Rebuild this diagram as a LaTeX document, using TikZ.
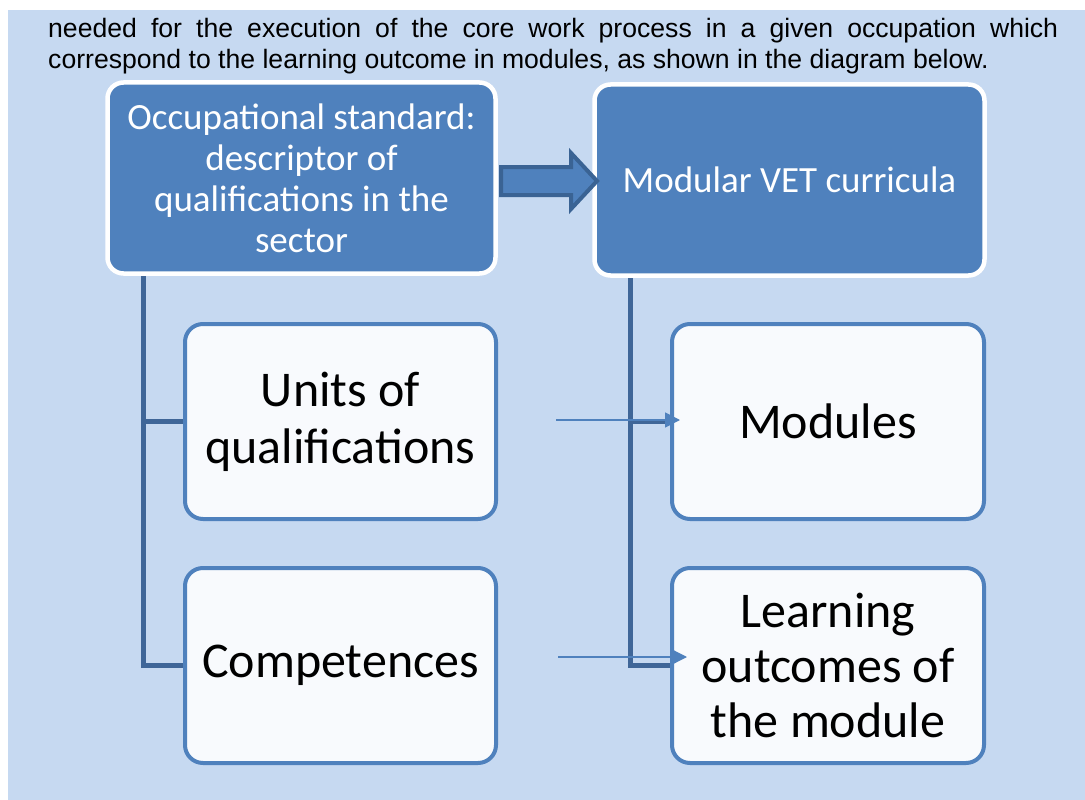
\documentclass[tikz,border=0pt]{standalone}
\usepackage{fontspec}
\setmainfont{Liberation Sans}
\newfontfamily\boxfont{Carlito}
\usepackage{tikz}
\usetikzlibrary{arrows.meta}
\pgfdeclarelayer{bg}
\pgfsetlayers{bg,main}

\definecolor{pageblue}{HTML}{C6D9F1}
\definecolor{boxblue}{HTML}{4F81BD}
\definecolor{linkblue}{HTML}{3F6698}
\definecolor{arrowedge}{HTML}{3A6394}
\definecolor{paleface}{HTML}{F8FAFD}

\begin{document}
\begin{tikzpicture}[x=1pt,y=-1pt,
	headbox/.style={draw=white, line width=4.5pt, fill=boxblue, rounded corners=16pt,
		text=white, align=center, inner sep=0pt, font=\boxfont\fontsize{37}{41}\selectfont},
	itembox/.style={draw=boxblue, line width=4pt, fill=paleface, rounded corners=18pt,
		minimum width=311pt, minimum height=195pt, align=center, inner sep=0pt},
	link/.style={draw=linkblue, line width=5pt},
	pointer/.style={draw=boxblue, line width=1.5pt}]
	\useasboundingbox (0,0) rectangle (1085,800);

	%% Page and the running text
	\begin{pgfonlayer}{bg}
		\fill[pageblue] (8,10) rectangle (1085,800);
	\end{pgfonlayer}
	\node[anchor=north west, inner sep=0pt, text width=1010pt, align=justify,
		font=\fontsize{26.6}{31}\selectfont] (para) at (48,18)
		{needed for the execution of the core work process in a given occupation which\linebreak
		correspond to the learning outcome in modules, as shown in the diagram below.};

	%% Upper boxes
	\node[headbox, minimum width=388pt, minimum height=191pt] (std) at (301.5,178)
		{Occupational standard:\\descriptor of\\qualifications in the\\sector};
	\node[headbox, minimum width=390pt, minimum height=191pt] (vet) at (789.5,180)
		{Modular VET curricula};

	% block arrow between them
	\draw[arrowedge, line width=4pt, fill=boxblue, line join=miter]
		(501,167) -- (571,167) -- (571,153) -- (597,181) -- (571,209) -- (571,195) -- (501,195) -- cycle;

	%% Lower boxes
	\node[itembox, font=\boxfont\fontsize{50}{57}\selectfont] (units) at (340.5,421.5)
		{Units of\\qualifications};
	\node[itembox, font=\boxfont\fontsize{50}{57}\selectfont] (comp) at (340.5,665.5)
		{Competences};
	\node[itembox, minimum width=312pt, font=\boxfont\fontsize{50}{57}\selectfont] (modules) at (828,421.5)
		{Modules};
	\node[itembox, minimum width=312pt, font=\boxfont\fontsize{50}{55}\selectfont] (outcomes) at (828,665.5)
		{Learning\\outcomes of\\the module};

	%% Tree lines
	\begin{pgfonlayer}{bg}
		\draw[link] ([xshift=38.5pt]std.south west) |- (units.west);
		\draw[link] ([xshift=38.5pt]std.south west) |- (comp.west);
		\draw[link] ([xshift=38.5pt]vet.south west) |- (modules.west);
		\draw[link] ([xshift=38.5pt]vet.south west) |- (outcomes.west);
	\end{pgfonlayer}

	% thin pointers
	\coordinate (u0) at (556,420);
	\coordinate (c0) at (558,657);
	\draw[pointer, -{Triangle[length=15pt,width=15pt]}] (u0) -- ([xshift=10pt]u0 -| modules.west);
	\draw[pointer, -{Triangle[length=17pt,width=17pt]}] (c0) -- ([xshift=17pt]c0 -| outcomes.west);
\end{tikzpicture}
\end{document}
